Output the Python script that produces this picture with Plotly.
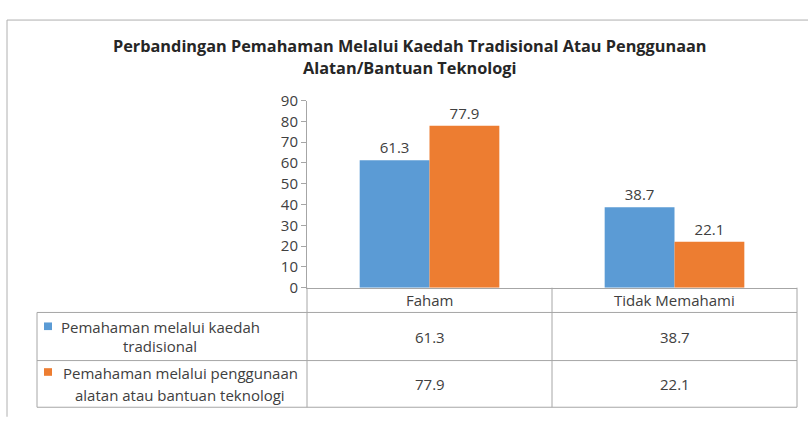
import plotly.graph_objects as go

categories = ["Faham", "Tidak Memahami"]
series_lines = [["Pemahaman melalui kaedah", "tradisional"],
                ["Pemahaman melalui penggunaan", "alatan atau bantuan teknologi"]]
tradisional = [61.3, 38.7]
teknologi = [77.9, 22.1]
y_ticks = [0, 10, 20, 30, 40, 50, 60, 70, 80, 90]
title_lines = ["Perbandingan Pemahaman Melalui Kaedah Tradisional Atau Penggunaan",
               "Alatan/Bantuan Teknologi"]

colors = ["#5B9BD5", "#ED7D31"]
W, H = 808, 421
FONT = "Open Sans"
TXT = "#404040"
LINE = "#A6A6A6"

def px(x):
    return x / W

def py(y):
    return 1 - y / H

# plot area in pixels
PL, PR, PT, PB = 307, 797, 94, 290.5
# table rows
R0, R1, R2, R3 = PB, 316.5, 367, 416
TL = 37

fig = go.Figure()
for lines, vals, col in zip(series_lines, [tradisional, teknologi], colors):
    fig.add_trace(go.Bar(
        x=categories, y=vals, name=" ".join(lines),
        marker=dict(color=col, line=dict(width=0)),
        text=[f"{v:.1f}" for v in vals], textposition="outside",
        textfont=dict(family=FONT, size=15, color=TXT),
        cliponaxis=False,
    ))

shapes = []
def hline(y, x0, x1, color=LINE, w=1):
    shapes.append(dict(type="line", xref="paper", yref="paper",
                       x0=px(x0), x1=px(x1), y0=py(y), y1=py(y),
                       line=dict(color=color, width=w)))
def vline(x, y0, y1, color=LINE, w=1):
    shapes.append(dict(type="line", xref="paper", yref="paper",
                       x0=px(x), x1=px(x), y0=py(y0), y1=py(y1),
                       line=dict(color=color, width=w)))

# outer frame (top & left)
hline(9.5, 7, W + 5, color="#B0B0B0")
vline(7, 9.5, H + 5, color="#B0B0B0")

# data table
hline(R1, TL, PR)
hline(R2, TL, PR)
hline(R3, TL, PR)
vline(TL, R1, R3)
vline(PL, PB, R3)
ncat = len(categories)
catw = (PR - PL) / ncat
for i in range(1, ncat + 1):
    vline(PL + catw * i, PB, R3)

annotations = []
for i, c in enumerate(categories):
    annotations.append(dict(xref="paper", yref="paper", x=px(PL + catw * (i + 0.5)),
                            y=py(303), text=c, showarrow=False,
                            xanchor="center", yanchor="middle",
                            font=dict(family=FONT, size=15, color=TXT)))
row_mid = [342, 391.5]
for r, vals in enumerate([tradisional, teknologi]):
    for i, v in enumerate(vals):
        annotations.append(dict(xref="paper", yref="paper", x=px(PL + catw * (i + 0.5)),
                                y=py(row_mid[r]), text=f"{v:.1f}", showarrow=False,
                                xanchor="center", yanchor="middle",
                                font=dict(family=FONT, size=15, color=TXT)))
# series names (two lines each) with legend keys
name_centers = [160, 180]
line_y = [[332, 352], [380, 403]]
key_x = 44
for r, lines in enumerate(series_lines):
    for j, t in enumerate(lines):
        annotations.append(dict(xref="paper", yref="paper", x=px(name_centers[r]),
                                y=py(line_y[r][j]), text=t, showarrow=False,
                                xanchor="center", yanchor="middle",
                                font=dict(family=FONT, size=15, color=TXT)))
    ky = line_y[r][0] - 1
    shapes.append(dict(type="rect", xref="paper", yref="paper",
                       x0=px(key_x), x1=px(key_x + 8),
                       y0=py(ky - 4), y1=py(ky + 4),
                       fillcolor=colors[r], line=dict(width=0)))

# title
for t, ty in zip(title_lines, [36.5, 59.5]):
    annotations.append(dict(xref="paper", yref="paper", x=px(410.5), y=py(ty),
                            text="<b>" + t + "</b>", showarrow=False,
                            xanchor="center", yanchor="middle",
                            font=dict(family=FONT, size=16.3, color="#262626")))

fig.update_layout(
    width=W, height=H, autosize=False,
    margin=dict(l=0, r=0, t=0, b=0, pad=0),
    paper_bgcolor="white", plot_bgcolor="white",
    showlegend=False,
    barmode="group", bargap=0.43, bargroupgap=0,
    xaxis=dict(domain=[px(PL), px(PR)], showticklabels=False, ticks="",
               showline=True, linecolor=LINE, linewidth=1, showgrid=False,
               fixedrange=True),
    yaxis=dict(domain=[py(PB), py(PT)], range=[0, 90], tickvals=y_ticks,
               ticks="outside", ticklen=5, tickcolor=LINE,
               showline=True, linecolor=LINE, linewidth=1, showgrid=False,
               zeroline=False,
               tickfont=dict(family=FONT, size=15, color=TXT)),
    shapes=shapes, annotations=annotations,
)

fig.write_html("out.html", config={"responsive": False, "displayModeBar": False},
               post_script="document.body.style.margin='0';document.body.style.overflow='hidden';")
